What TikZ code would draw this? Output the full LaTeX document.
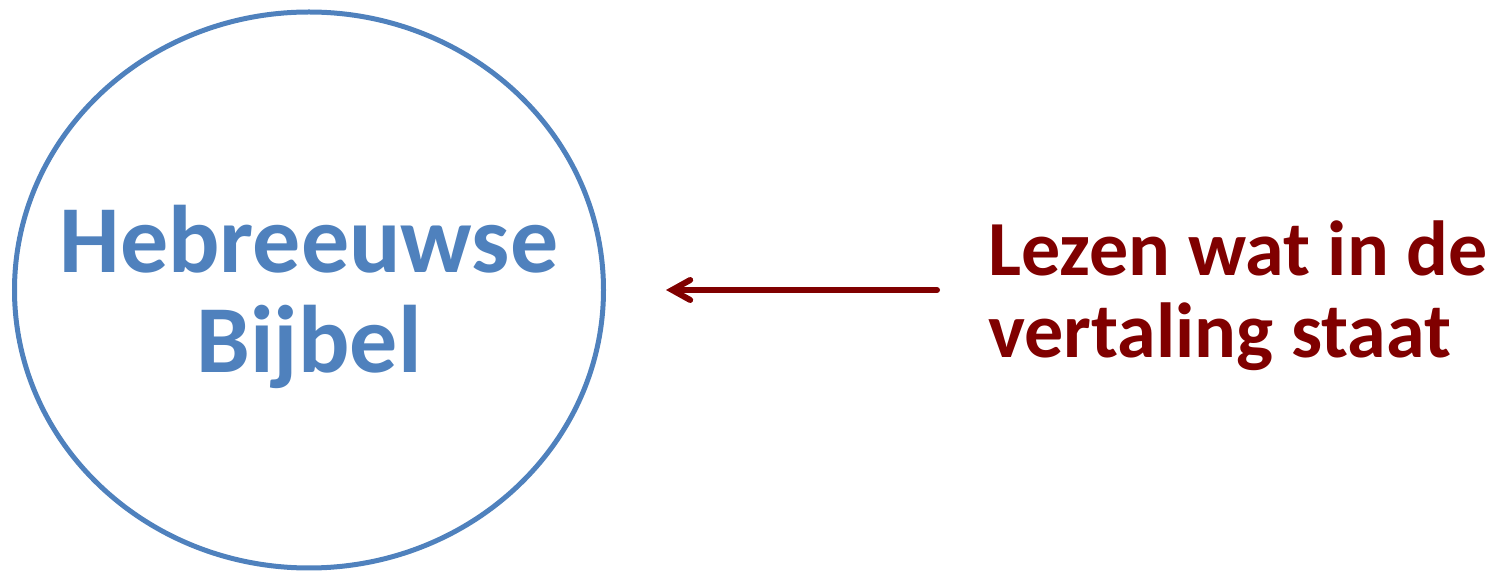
\documentclass[tikz,border=0pt]{standalone}
\usepackage{fontspec}
\setmainfont{Carlito}
\usepackage{xcolor}
\usepackage{tikz}
\usetikzlibrary{shapes.geometric, arrows.meta, positioning, calc}
\definecolor{bibleblue}{HTML}{4F81BD}
\definecolor{readred}{HTML}{800000}

\begin{document}
\begin{tikzpicture}[
    bible/.style={ellipse, draw=bibleblue, line width=0.1cm, text=bibleblue, align=center, minimum width=11.78cm, minimum height=11.12cm, inner sep=0pt, font=\fontsize{54.6pt}{57pt}\selectfont\bfseries},
    note/.style={anchor=west, text=readred, align=left, inner sep=0pt, font=\fontsize{44.4pt}{46.7pt}\selectfont\bfseries},
    arrow/.style={line width=0.12cm, draw=readred, line cap=round, -{Straight Barb[length=0.36cm, width=0.4cm, line cap=round]}}
]
    \useasboundingbox (0,0) rectangle (29.92,-11.44);
    % Nodes
    \node[bible] (hebrew) at (6.18,-5.8) {\makebox[0pt]{\raisebox{0pt}[\dimexpr\height+0.28cm\relax]{Hebreeuwse}}\\\makebox[0pt]{Bijbel}};
    \node[note] (reading) at (19.76,-5.92) {Lezen wat in de\\vertaling staat};

    % Connections
    \draw[arrow, shorten <=1.02cm, shorten >=1.2cm] (reading.west |- hebrew) -- (hebrew.east);
\end{tikzpicture}
\end{document}
